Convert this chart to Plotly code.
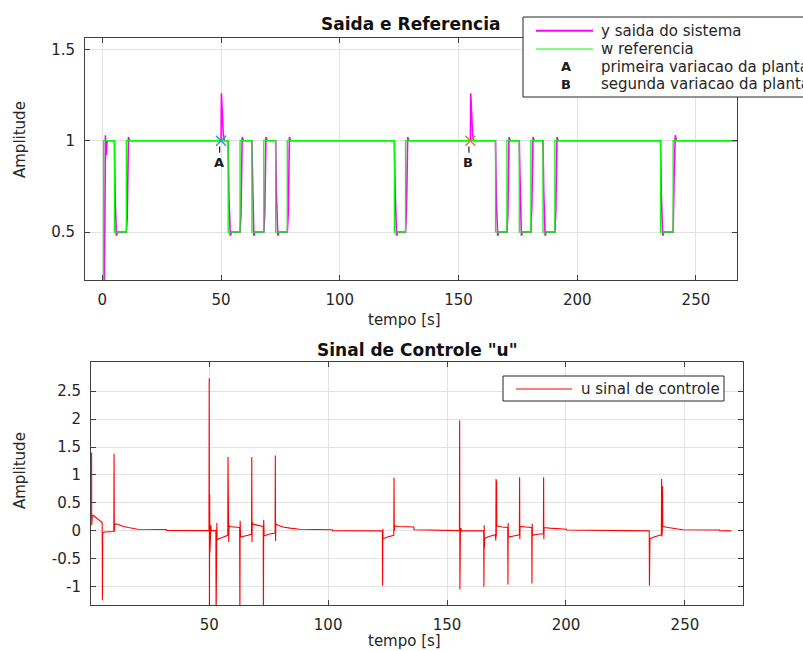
import plotly.graph_objects as go

W, H = 803, 651

# ---------------- data ----------------
# reference w (step levels, held until next time)
w_t = [0, 0.5, 5.1, 10.1, 53.0, 58.0, 63.0, 68.0, 73.0, 77.9, 123.0, 127.7,
       165.6, 170.4, 175.6, 180.5, 185.6, 190.6, 235.1, 240.4, 270]
w_v = [0, 1, 0.5, 1, 0.5, 1, 0.5, 1, 0.5, 1, 0.5, 1,
       0.5, 1, 0.5, 1, 0.5, 1, 0.5, 1, 1]

# system output y
y_t = [0, 0.8, 1.3, 1.6, 2.0,
       5.1, 5.4, 5.9, 6.4,
       10.1, 10.5, 11.0, 11.5,
       50.0, 50.15, 50.5, 50.9, 51.4,
       53.0, 53.3, 53.9, 54.4,
       58.0, 58.4, 58.9, 59.4,
       63.0, 63.2, 63.8, 64.3,
       68.0, 68.4, 68.9, 69.4,
       73.0, 73.3, 73.9, 74.4,
       77.9, 78.3, 78.8, 79.3,
       123.0, 123.3, 123.9, 124.4,
       127.7, 128.1, 128.6, 129.1,
       155.0, 155.15, 155.5, 155.9, 156.4,
       165.6, 165.9, 166.5, 167.0,
       170.4, 170.8, 171.3, 171.8,
       175.6, 175.9, 176.5, 177.0,
       180.5, 180.9, 181.4, 181.9,
       185.6, 185.9, 186.5, 187.0,
       190.6, 191.0, 191.5, 192.0,
       235.1, 235.4, 236.0, 236.5,
       240.4, 240.8, 241.3, 241.8,
       270]
y_v = [0, 0, 1.03, 0.92, 1.0,
       1.0, 0.70, 0.48, 0.5,
       0.5, 0.58, 1.02, 1.0,
       1.0, 1.26, 1.12, 1.04, 1.0,
       1.0, 0.70, 0.48, 0.5,
       0.5, 0.60, 1.02, 1.0,
       1.0, 0.85, 0.48, 0.5,
       0.5, 0.60, 1.02, 1.0,
       1.0, 0.72, 0.48, 0.5,
       0.5, 0.60, 1.02, 1.0,
       1.0, 0.75, 0.48, 0.5,
       0.5, 0.62, 1.02, 1.0,
       1.0, 1.26, 1.12, 1.04, 1.0,
       1.0, 0.70, 0.48, 0.5,
       0.5, 0.60, 1.02, 1.0,
       1.0, 0.80, 0.48, 0.5,
       0.5, 0.65, 1.02, 1.0,
       1.0, 0.72, 0.48, 0.5,
       0.5, 0.62, 1.02, 1.0,
       1.0, 0.72, 0.48, 0.5,
       0.5, 0.80, 1.03, 1.0,
       1.0]

# plant variation markers
mark_t = [50, 155]
mark_v = [1, 1]
mark_lbl = ["A", "B"]
mark_col = ["#3d8fd8", "#e07b39"]
mark_lbl_y = 0.88

# control signal u
u_t = [0.55, 0.6, 0.7, 0.8, 0.9, 1.5, 2.5, 3.5, 4.5, 5.0,
       5.1, 5.2, 6.0, 9.9, 10.0, 10.1, 10.3, 11.5, 12.5, 14, 16, 18, 20, 32, 32.1,
       49.9, 50.0, 50.1, 50.2, 50.3, 50.4, 50.5, 50.7, 50.9, 52.8,
       52.9, 53.0, 53.1, 53.2, 53.3, 53.5, 55.5, 57.8,
       57.9, 58.0, 58.1, 58.2, 58.3, 58.6, 60.5, 62.8,
       62.9, 63.0, 63.1, 63.2, 65.0, 67.8,
       67.9, 68.0, 68.1, 68.4, 70.0, 72.7,
       72.8, 72.9, 73.0, 73.1, 75.0, 77.7,
       77.8, 77.9, 78.0, 79.0, 81.0, 84.0, 88.0, 101.8, 101.9, 122.8,
       122.9, 123.0, 123.1, 125.0, 127.6,
       127.7, 127.8, 127.9, 128.0, 129.5, 136.0, 136.1, 150.0, 150.1, 155.2,
       155.3, 155.4, 155.5, 155.6, 155.8, 156.0, 165.4,
       165.5, 165.6, 165.7, 165.8, 167.0, 170.3,
       170.4, 170.5, 170.6, 170.7, 170.8, 170.9, 173.0, 175.5,
       175.6, 175.7, 175.8, 178.0, 180.4,
       180.5, 180.6, 180.7, 183.0, 185.6,
       185.7, 185.8, 185.9, 188.0, 190.5,
       190.6, 190.7, 190.8, 193.0, 200.2, 200.3, 216.2, 216.3, 235.0,
       235.1, 235.2, 235.3, 237.0, 240.1,
       240.2, 240.3, 240.4, 240.5, 240.6, 240.7, 243.0, 247.5, 249.0, 264.5, 264.6, 269.5]
u_v = [1.40, 0.10, 1.38, 0.12, 0.28, 0.27, 0.24, 0.21, 0.17, 0.15,
       -1.24, -0.04, -0.02, -0.01, 1.38, -0.01, 0.13, 0.12, 0.10, 0.08, 0.06, 0.045, 0.03, 0.025, 0.01,
       0.005, 2.73, -1.6, 0.65, -0.38, 0.10, -0.05, 0.10, 0.0, 0.01,
       -1.6, 0.14, -1.6, 0.14, -0.17, -0.15, -0.12, -0.08,
       1.32, -0.2, 0.65, -0.2, 0.10, 0.08, 0.07, 0.06,
       -1.6, 0.18, -0.2, -0.11, -0.09, -0.06,
       1.32, -0.2, 0.15, 0.12, 0.10, 0.08,
       -1.6, 0.20, -1.6, -0.09, -0.06, -0.04,
       1.35, -0.18, 0.12, 0.10, 0.07, 0.05, 0.03, 0.02, 0.005, 0.0,
       -0.98, 0.04, -0.14, -0.11, -0.08,
       0.95, 0.0, 0.76, 0.09, 0.08, 0.07, 0.02, 0.015, 0.005, 0.005,
       1.98, -1.05, 0.25, -0.05, 0.05, 0.0, 0.0,
       -1.0, 0.10, -0.3, -0.14, -0.11, -0.07,
       0.93, -0.17, 0.93, -0.10, 0.90, 0.09, 0.07, 0.06,
       -0.96, 0.14, -0.11, -0.09, -0.07,
       0.96, -0.15, 0.08, 0.07, 0.06,
       -0.94, 0.13, -0.08, -0.06, -0.05,
       0.96, -0.15, 0.06, 0.05, 0.03, 0.015, 0.01, 0.0, 0.0,
       -0.98, -0.3, -0.14, -0.11, -0.07,
       0.93, -0.10, 0.93, 0.0, 0.80, 0.08, 0.06, 0.04, 0.02, 0.015, 0.003, 0.0]

# ticks
top_xticks = [0, 50, 100, 150, 200, 250]
top_yticks = [0.5, 1, 1.5]
top_ylabels = ["0.5", "1", "1.5"]
bot_xticks = [50, 100, 150, 200, 250]
bot_yticks = [-1, -0.5, 0, 0.5, 1, 1.5, 2, 2.5]
bot_ylabels = ["-1", "-0.5", "0", "0.5", "1", "1.5", "2", "2.5"]

# ---------------- helpers ----------------
def px(x):
    return x / W

def py(y):
    return 1 - y / H

FONT = "DejaVu Sans"
TXT = "#262626"

fig = go.Figure()

# top subplot
fig.add_trace(go.Scatter(x=y_t, y=y_v, mode="lines", line=dict(color="#ff00ff", width=1.6),
                         xaxis="x", yaxis="y", showlegend=False))
fig.add_trace(go.Scatter(x=w_t, y=w_v, mode="lines", line=dict(color="#00ff00", width=1.3, shape="hv"),
                         xaxis="x", yaxis="y", showlegend=False))
for i in range(2):
    fig.add_trace(go.Scatter(x=[mark_t[i]], y=[mark_v[i]], mode="markers",
                             marker=dict(symbol="x-thin", size=10, line=dict(color=mark_col[i], width=1.6)),
                             xaxis="x", yaxis="y", showlegend=False))

# bottom subplot
fig.add_trace(go.Scatter(x=u_t, y=u_v, mode="lines", line=dict(color="#ff0000", width=1.1),
                         xaxis="x2", yaxis="y2", showlegend=False))

axis_common = dict(showline=True, linecolor="#404040", linewidth=1, mirror="ticks",
                   ticks="inside", ticklen=5, tickcolor="#404040", tickwidth=1,
                   showgrid=True, gridcolor="#e3e3e3", gridwidth=1, zeroline=False,
                   tickfont=dict(family=FONT, size=15, color=TXT))

fig.update_layout(
    width=W, height=H,
    margin=dict(l=0, r=0, t=0, b=0),
    paper_bgcolor="white", plot_bgcolor="white",
    showlegend=False,
    xaxis=dict(domain=[px(85), px(737)], range=[-7.3, 267.3], anchor="y",
               tickvals=top_xticks, ticklabelstandoff=6, **axis_common),
    yaxis=dict(domain=[py(280), py(38)], range=[0.238, 1.562], anchor="x",
               tickvals=top_yticks, ticktext=top_ylabels, ticklabelstandoff=6, **axis_common),
    xaxis2=dict(domain=[px(91), px(742.7)], range=[0.3, 274.3], anchor="y2",
                tickvals=bot_xticks, ticklabelstandoff=6, **axis_common),
    yaxis2=dict(domain=[py(605), py(362.3)], range=[-1.325, 3.015], anchor="x2",
                tickvals=bot_yticks, ticktext=bot_ylabels, ticklabelstandoff=6, **axis_common),
)

ann = []
shapes = []

def txt(text, x, y, size=15, color=TXT, xanchor="center", xref="paper", yref="paper", angle=0):
    if xref == "paper":
        x = px(x)
    if yref == "paper":
        y = py(y)
    ann.append(dict(text=text, x=x, y=y, xref=xref, yref=yref, xanchor=xanchor, yanchor="middle",
                    showarrow=False, textangle=angle, font=dict(family=FONT, size=size, color=color)))

# titles
txt("<b>Saida e Referencia</b>", 411, 24, size=17, color="#111")
txt('<b>Sinal de Controle "u"</b>', 417, 350, size=17, color="#111")
# axis labels
txt("tempo [s]", 404, 320)
txt("tempo [s]", 404, 641)
txt("Amplitude", 20, 140, angle=-90)
txt("Amplitude", 20, 471, angle=-90)

# A / B data labels with short leader line
for i in range(2):
    txt("<b>%s</b>" % mark_lbl[i], mark_t[i] - 0.8, mark_lbl_y, size=13, color="#1a1a1a", xref="x", yref="y")
    shapes.append(dict(type="line", xref="x", yref="y", x0=mark_t[i] - 0.6, x1=mark_t[i] - 0.6,
                       y0=0.968, y1=0.934, line=dict(color="#222", width=1.2)))

# top legend (manual, extends past the right edge like the reference)
shapes.append(dict(type="rect", xref="paper", yref="paper", x0=px(523), x1=px(830), y0=py(97), y1=py(17),
                   fillcolor="white", line=dict(color="#262626", width=1), layer="above"))
leg_rows = [30.7, 49, 66.7, 84]
shapes.append(dict(type="line", xref="paper", yref="paper", x0=px(536), x1=px(593),
                   y0=py(leg_rows[0]), y1=py(leg_rows[0]), line=dict(color="#ff00ff", width=2), layer="above"))
shapes.append(dict(type="line", xref="paper", yref="paper", x0=px(536), x1=px(593),
                   y0=py(leg_rows[1]), y1=py(leg_rows[1]), line=dict(color="#00ff00", width=1.2), layer="above"))
leg_txt = ["y saida do sistema", "w referencia", "primeira variacao da planta", "segunda variacao da planta"]
for r, t in zip(leg_rows, leg_txt):
    txt(t, 599, r, xanchor="left")
for r, l in zip(leg_rows[2:], mark_lbl):
    txt("<b>%s</b>" % l, 566, r, size=13, color="#1a1a1a")

# bottom legend
shapes.append(dict(type="rect", xref="paper", yref="paper", x0=px(503), x1=px(724), y0=py(401), y1=py(376),
                   fillcolor="white", line=dict(color="#262626", width=1), layer="above"))
shapes.append(dict(type="line", xref="paper", yref="paper", x0=px(516), x1=px(572),
                   y0=py(389), y1=py(389), line=dict(color="#ff0000", width=1), layer="above"))
txt("u sinal de controle", 579, 389, xanchor="left")

fig.update_layout(annotations=ann, shapes=shapes)
fig.write_html("out.html")
